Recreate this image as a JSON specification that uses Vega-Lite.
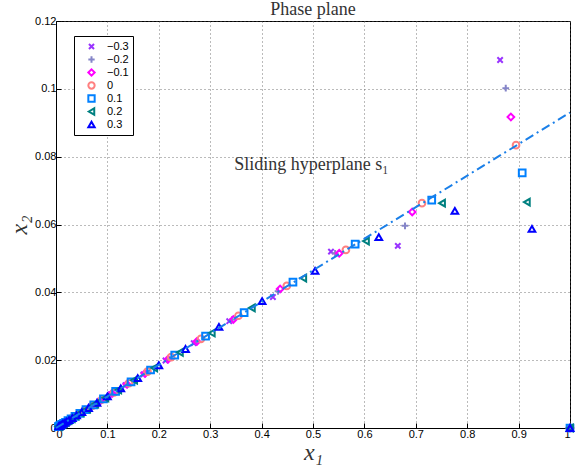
{
  "$schema": "https://vega.github.io/schema/vega-lite/v6.json",
  "width": 514,
  "height": 407,
  "autosize": "none",
  "padding": {"left": 56, "top": 21, "right": 11, "bottom": 39},
  "background": "white",
  "title": {"text": "Phase plane", "font": "Liberation Serif", "fontSize": 18, "fontWeight": "normal", "color": "#333333", "anchor": "middle", "offset": -4},
  "config": {
    "view": {"stroke": "black", "strokeWidth": 1},
    "axis": {
      "domainColor": "black", "tickColor": "black", "labelColor": "black",
      "labelFont": "Liberation Sans", "labelFontSize": 11,
      "gridColor": "#555555", "gridDash": [1, 3], "gridOpacity": 0.8,
      "tickSize": -5, "labelPadding": 5,
      "titleFont": "Liberation Serif", "titleFontStyle": "italic", "titleFontWeight": "normal", "titleFontSize": 24, "titleColor": "#333333"
    },
    "legend": {"labelFont": "Liberation Sans", "labelFontSize": 11}
  },
  "datasets": {
    "traj": [
      {"s": "−0.3", "x": 1, "y": 0}, {"s": "−0.3", "x": 0.864, "y": 0.1085}, {"s": "−0.3", "x": 0.665, "y": 0.0537}, {"s": "−0.3", "x": 0.535, "y": 0.052}, {"s": "−0.3", "x": 0.422, "y": 0.0386}, {"s": "−0.3", "x": 0.337, "y": 0.0315}, {"s": "−0.3", "x": 0.268, "y": 0.025}, {"s": "−0.3", "x": 0.213, "y": 0.0199}, {"s": "−0.3", "x": 0.17, "y": 0.0158}, {"s": "−0.3", "x": 0.135, "y": 0.0126}, {"s": "−0.3", "x": 0.107, "y": 0.01}, {"s": "−0.3", "x": 0.0853, "y": 0.008}, {"s": "−0.3", "x": 0.0678, "y": 0.0063}, {"s": "−0.3", "x": 0.0539, "y": 0.005}, {"s": "−0.3", "x": 0.0429, "y": 0.004}, {"s": "−0.3", "x": 0.0341, "y": 0.0032}, {"s": "−0.3", "x": 0.0271, "y": 0.0025}, {"s": "−0.3", "x": 0.0216, "y": 0.002}, {"s": "−0.3", "x": 0.0171, "y": 0.0016}, {"s": "−0.3", "x": 0.0136, "y": 0.0013}, {"s": "−0.3", "x": 0.0108, "y": 0.001}, {"s": "−0.3", "x": 0.0086, "y": 0.0008}, {"s": "−0.3", "x": 0.0069, "y": 0.0006}, {"s": "−0.3", "x": 0.0055, "y": 0.0005}, {"s": "−0.3", "x": 0.0043, "y": 0.0004},
      {"s": "−0.2", "x": 1, "y": 0}, {"s": "−0.2", "x": 0.875, "y": 0.1002}, {"s": "−0.2", "x": 0.679, "y": 0.0596}, {"s": "−0.2", "x": 0.543, "y": 0.0515}, {"s": "−0.2", "x": 0.432, "y": 0.0403}, {"s": "−0.2", "x": 0.343, "y": 0.032}, {"s": "−0.2", "x": 0.273, "y": 0.0254}, {"s": "−0.2", "x": 0.217, "y": 0.0202}, {"s": "−0.2", "x": 0.173, "y": 0.0161}, {"s": "−0.2", "x": 0.137, "y": 0.0128}, {"s": "−0.2", "x": 0.109, "y": 0.0102}, {"s": "−0.2", "x": 0.0869, "y": 0.0081}, {"s": "−0.2", "x": 0.0691, "y": 0.0064}, {"s": "−0.2", "x": 0.0549, "y": 0.0051}, {"s": "−0.2", "x": 0.0437, "y": 0.0041}, {"s": "−0.2", "x": 0.0347, "y": 0.0032}, {"s": "−0.2", "x": 0.0276, "y": 0.0026}, {"s": "−0.2", "x": 0.0219, "y": 0.002}, {"s": "−0.2", "x": 0.0175, "y": 0.0016}, {"s": "−0.2", "x": 0.0139, "y": 0.0013}, {"s": "−0.2", "x": 0.011, "y": 0.001}, {"s": "−0.2", "x": 0.0088, "y": 0.0008}, {"s": "−0.2", "x": 0.007, "y": 0.0007}, {"s": "−0.2", "x": 0.0056, "y": 0.0005}, {"s": "−0.2", "x": 0.0044, "y": 0.0004},
      {"s": "−0.1", "x": 1, "y": 0}, {"s": "−0.1", "x": 0.885, "y": 0.0917}, {"s": "−0.1", "x": 0.693, "y": 0.0637}, {"s": "−0.1", "x": 0.551, "y": 0.0515}, {"s": "−0.1", "x": 0.436, "y": 0.041}, {"s": "−0.1", "x": 0.345, "y": 0.032}, {"s": "−0.1", "x": 0.274, "y": 0.0255}, {"s": "−0.1", "x": 0.218, "y": 0.0203}, {"s": "−0.1", "x": 0.173, "y": 0.0161}, {"s": "−0.1", "x": 0.138, "y": 0.0129}, {"s": "−0.1", "x": 0.109, "y": 0.0102}, {"s": "−0.1", "x": 0.0869, "y": 0.0081}, {"s": "−0.1", "x": 0.0691, "y": 0.0064}, {"s": "−0.1", "x": 0.0549, "y": 0.0051}, {"s": "−0.1", "x": 0.0437, "y": 0.0041}, {"s": "−0.1", "x": 0.0347, "y": 0.0032}, {"s": "−0.1", "x": 0.0276, "y": 0.0026}, {"s": "−0.1", "x": 0.0219, "y": 0.002}, {"s": "−0.1", "x": 0.0174, "y": 0.0016}, {"s": "−0.1", "x": 0.0139, "y": 0.0013}, {"s": "−0.1", "x": 0.011, "y": 0.001}, {"s": "−0.1", "x": 0.0088, "y": 0.0008}, {"s": "−0.1", "x": 0.007, "y": 0.0007}, {"s": "−0.1", "x": 0.0055, "y": 0.0005}, {"s": "−0.1", "x": 0.0044, "y": 0.0004},
      {"s": "0", "x": 1, "y": 0}, {"s": "0", "x": 0.895, "y": 0.0834}, {"s": "0", "x": 0.712, "y": 0.0663}, {"s": "0", "x": 0.564, "y": 0.0525}, {"s": "0", "x": 0.449, "y": 0.0419}, {"s": "0", "x": 0.355, "y": 0.0331}, {"s": "0", "x": 0.282, "y": 0.0263}, {"s": "0", "x": 0.224, "y": 0.0209}, {"s": "0", "x": 0.178, "y": 0.0166}, {"s": "0", "x": 0.142, "y": 0.0132}, {"s": "0", "x": 0.113, "y": 0.0105}, {"s": "0", "x": 0.0896, "y": 0.0084}, {"s": "0", "x": 0.0712, "y": 0.0066}, {"s": "0", "x": 0.0566, "y": 0.0053}, {"s": "0", "x": 0.045, "y": 0.0042}, {"s": "0", "x": 0.0358, "y": 0.0033}, {"s": "0", "x": 0.0284, "y": 0.0026}, {"s": "0", "x": 0.0226, "y": 0.0021}, {"s": "0", "x": 0.018, "y": 0.0017}, {"s": "0", "x": 0.0143, "y": 0.0013}, {"s": "0", "x": 0.0113, "y": 0.0011}, {"s": "0", "x": 0.009, "y": 0.0008}, {"s": "0", "x": 0.0072, "y": 0.0007}, {"s": "0", "x": 0.0057, "y": 0.0005}, {"s": "0", "x": 0.0045, "y": 0.0004},
      {"s": "0.1", "x": 1, "y": 0}, {"s": "0.1", "x": 0.907, "y": 0.0752}, {"s": "0.1", "x": 0.731, "y": 0.0672}, {"s": "0.1", "x": 0.582, "y": 0.0542}, {"s": "0.1", "x": 0.461, "y": 0.043}, {"s": "0.1", "x": 0.366, "y": 0.034}, {"s": "0.1", "x": 0.291, "y": 0.0271}, {"s": "0.1", "x": 0.231, "y": 0.0215}, {"s": "0.1", "x": 0.184, "y": 0.0171}, {"s": "0.1", "x": 0.146, "y": 0.0136}, {"s": "0.1", "x": 0.116, "y": 0.0108}, {"s": "0.1", "x": 0.0923, "y": 0.0086}, {"s": "0.1", "x": 0.0734, "y": 0.0068}, {"s": "0.1", "x": 0.0583, "y": 0.0054}, {"s": "0.1", "x": 0.0464, "y": 0.0043}, {"s": "0.1", "x": 0.0369, "y": 0.0034}, {"s": "0.1", "x": 0.0293, "y": 0.0027}, {"s": "0.1", "x": 0.0233, "y": 0.0022}, {"s": "0.1", "x": 0.0185, "y": 0.0017}, {"s": "0.1", "x": 0.0147, "y": 0.0014}, {"s": "0.1", "x": 0.0117, "y": 0.0011}, {"s": "0.1", "x": 0.0093, "y": 0.0009}, {"s": "0.1", "x": 0.0074, "y": 0.0007}, {"s": "0.1", "x": 0.0059, "y": 0.0005}, {"s": "0.1", "x": 0.0047, "y": 0.0004},
      {"s": "0.2", "x": 1, "y": 0}, {"s": "0.2", "x": 0.916, "y": 0.0666}, {"s": "0.2", "x": 0.751, "y": 0.0663}, {"s": "0.2", "x": 0.603, "y": 0.0551}, {"s": "0.2", "x": 0.481, "y": 0.0442}, {"s": "0.2", "x": 0.381, "y": 0.0354}, {"s": "0.2", "x": 0.303, "y": 0.028}, {"s": "0.2", "x": 0.241, "y": 0.0223}, {"s": "0.2", "x": 0.191, "y": 0.0177}, {"s": "0.2", "x": 0.152, "y": 0.0141}, {"s": "0.2", "x": 0.121, "y": 0.0112}, {"s": "0.2", "x": 0.096, "y": 0.0089}, {"s": "0.2", "x": 0.0763, "y": 0.0071}, {"s": "0.2", "x": 0.0606, "y": 0.0056}, {"s": "0.2", "x": 0.0482, "y": 0.0045}, {"s": "0.2", "x": 0.0383, "y": 0.0036}, {"s": "0.2", "x": 0.0305, "y": 0.0028}, {"s": "0.2", "x": 0.0242, "y": 0.0023}, {"s": "0.2", "x": 0.0192, "y": 0.0018}, {"s": "0.2", "x": 0.0153, "y": 0.0014}, {"s": "0.2", "x": 0.0122, "y": 0.0011}, {"s": "0.2", "x": 0.0097, "y": 0.0009}, {"s": "0.2", "x": 0.0077, "y": 0.0007}, {"s": "0.2", "x": 0.0061, "y": 0.0006}, {"s": "0.2", "x": 0.0048, "y": 0.0004},
      {"s": "0.3", "x": 1, "y": 0}, {"s": "0.3", "x": 0.926, "y": 0.0587}, {"s": "0.3", "x": 0.776, "y": 0.064}, {"s": "0.3", "x": 0.628, "y": 0.0563}, {"s": "0.3", "x": 0.504, "y": 0.0463}, {"s": "0.3", "x": 0.401, "y": 0.0374}, {"s": "0.3", "x": 0.317, "y": 0.0298}, {"s": "0.3", "x": 0.252, "y": 0.0233}, {"s": "0.3", "x": 0.2, "y": 0.0185}, {"s": "0.3", "x": 0.159, "y": 0.0147}, {"s": "0.3", "x": 0.126, "y": 0.0117}, {"s": "0.3", "x": 0.1, "y": 0.0093}, {"s": "0.3", "x": 0.0796, "y": 0.0074}, {"s": "0.3", "x": 0.0633, "y": 0.0059}, {"s": "0.3", "x": 0.0503, "y": 0.0047}, {"s": "0.3", "x": 0.04, "y": 0.0037}, {"s": "0.3", "x": 0.0318, "y": 0.0029}, {"s": "0.3", "x": 0.0253, "y": 0.0023}, {"s": "0.3", "x": 0.0201, "y": 0.0019}, {"s": "0.3", "x": 0.016, "y": 0.0015}, {"s": "0.3", "x": 0.0127, "y": 0.0012}, {"s": "0.3", "x": 0.0101, "y": 0.0009}, {"s": "0.3", "x": 0.008, "y": 0.0007}, {"s": "0.3", "x": 0.0064, "y": 0.0006}, {"s": "0.3", "x": 0.0051, "y": 0.0005}
    ],
    "surface": [{"x": 0, "y": 0}, {"x": 1, "y": 0.093}],
    "note": [{"x": 0.347, "y": 0.0775, "t": "Sliding hyperplane s₁"}]
  },
  "layer": [
    {
      "data": {"name": "traj"},
      "mark": {"type": "point", "filled": false, "strokeWidth": 2, "size": 45, "opacity": 1},
      "encoding": {
        "x": {"field": "x", "type": "quantitative", "scale": {"domain": [0, 1], "nice": false},
              "axis": {"title": "x₁", "values": [0, 0.1, 0.2, 0.3, 0.4, 0.5, 0.6, 0.7, 0.8, 0.9, 1], "format": "~g", "grid": true, "titlePadding": 1}},
        "y": {"field": "y", "type": "quantitative", "scale": {"domain": [0, 0.12], "nice": false},
              "axis": {"title": "x₂", "values": [0, 0.02, 0.04, 0.06, 0.08, 0.1, 0.12], "format": "~g", "grid": true, "titlePadding": 3, "labelFlush": false}},
        "color": {"field": "s", "type": "nominal",
                  "scale": {"domain": ["−0.3", "−0.2", "−0.1", "0", "0.1", "0.2", "0.3"],
                            "range": ["#9933ff", "#8585c8", "#ff00ff", "#ff8080", "#0080ff", "#008080", "#0000ff"]},
                  "legend": {"title": null, "orient": "none", "legendX": 18, "legendY": 15, "strokeColor": "black", "fillColor": "white", "padding": 4, "symbolStrokeWidth": 2, "symbolSize": 40, "rowPadding": 0, "clipHeight": 13, "symbolOffset": 8, "labelOffset": 10, "cornerRadius": 0}},
        "shape": {"field": "s", "type": "nominal",
                  "scale": {"domain": ["−0.3", "−0.2", "−0.1", "0", "0.1", "0.2", "0.3"],
                            "range": ["M-0.8,-0.8L0.8,0.8M-0.8,0.8L0.8,-0.8", "M-1,0L1,0M0,-1L0,1", "diamond", "circle", "square", "triangle-left", "triangle-up"]},
                  "legend": null}
      }
    },
    {
      "data": {"name": "surface"},
      "mark": {"type": "line", "color": "#1a7fe8", "strokeWidth": 2, "strokeDash": [9, 4, 2, 4]},
      "encoding": {
        "x": {"field": "x", "type": "quantitative"},
        "y": {"field": "y", "type": "quantitative"}
      }
    },
    {
      "data": {"name": "note"},
      "mark": {"type": "text", "align": "left", "baseline": "middle", "font": "Liberation Serif", "fontSize": 18, "color": "#333333"},
      "encoding": {
        "x": {"field": "x", "type": "quantitative"},
        "y": {"field": "y", "type": "quantitative"},
        "text": {"field": "t"}
      }
    }
  ]
}
